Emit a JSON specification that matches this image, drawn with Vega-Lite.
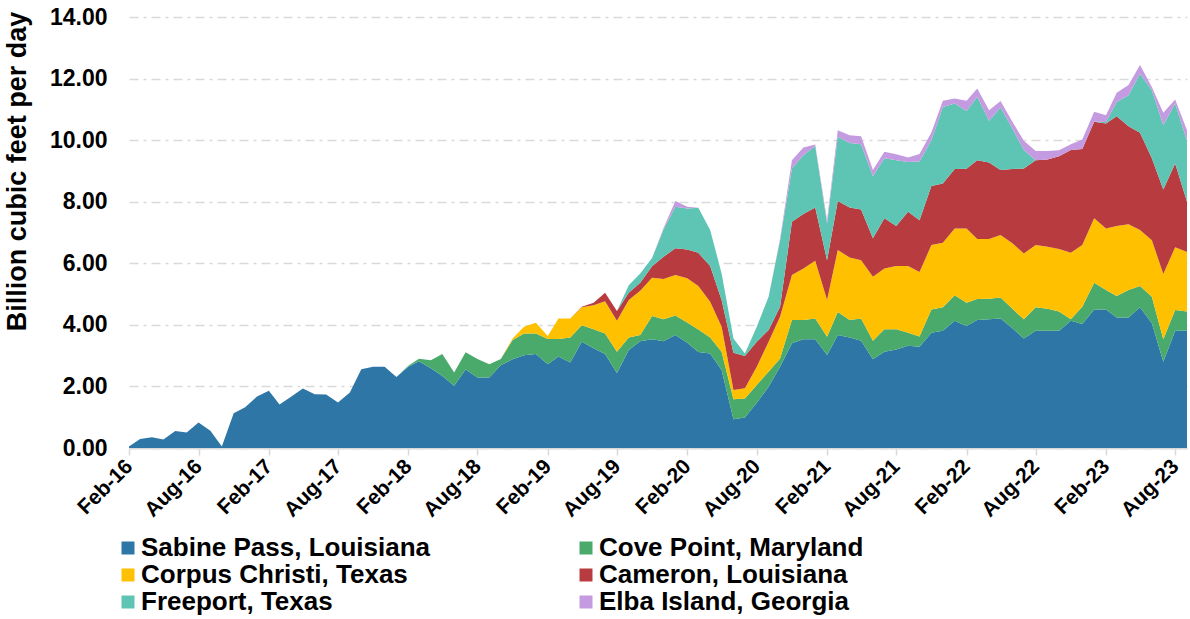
{
  "$schema": "https://vega.github.io/schema/vega-lite/v6.json",
  "width": 1058,
  "height": 431,
  "autosize": {"type": "none"},
  "padding": {"left": 129, "top": 17, "right": 3, "bottom": 171},
  "background": "white",
  "config": {"view": {"stroke": null}, "font": "Liberation Sans"},
  "data": {"values": [
    {"date":"2016-02-01","sabine":0.05,"cove":0,"corpus":0,"cameron":0,"freeport":0,"elba":0},
    {"date":"2016-03-01","sabine":0.29,"cove":0,"corpus":0,"cameron":0,"freeport":0,"elba":0},
    {"date":"2016-04-01","sabine":0.35,"cove":0,"corpus":0,"cameron":0,"freeport":0,"elba":0},
    {"date":"2016-05-01","sabine":0.28,"cove":0,"corpus":0,"cameron":0,"freeport":0,"elba":0},
    {"date":"2016-06-01","sabine":0.55,"cove":0,"corpus":0,"cameron":0,"freeport":0,"elba":0},
    {"date":"2016-07-01","sabine":0.50,"cove":0,"corpus":0,"cameron":0,"freeport":0,"elba":0},
    {"date":"2016-08-01","sabine":0.83,"cove":0,"corpus":0,"cameron":0,"freeport":0,"elba":0},
    {"date":"2016-09-01","sabine":0.56,"cove":0,"corpus":0,"cameron":0,"freeport":0,"elba":0},
    {"date":"2016-10-01","sabine":0.05,"cove":0,"corpus":0,"cameron":0,"freeport":0,"elba":0},
    {"date":"2016-11-01","sabine":1.13,"cove":0,"corpus":0,"cameron":0,"freeport":0,"elba":0},
    {"date":"2016-12-01","sabine":1.32,"cove":0,"corpus":0,"cameron":0,"freeport":0,"elba":0},
    {"date":"2017-01-01","sabine":1.67,"cove":0,"corpus":0,"cameron":0,"freeport":0,"elba":0},
    {"date":"2017-02-01","sabine":1.86,"cove":0,"corpus":0,"cameron":0,"freeport":0,"elba":0},
    {"date":"2017-03-01","sabine":1.41,"cove":0,"corpus":0,"cameron":0,"freeport":0,"elba":0},
    {"date":"2017-04-01","sabine":1.67,"cove":0,"corpus":0,"cameron":0,"freeport":0,"elba":0},
    {"date":"2017-05-01","sabine":1.93,"cove":0,"corpus":0,"cameron":0,"freeport":0,"elba":0},
    {"date":"2017-06-01","sabine":1.75,"cove":0,"corpus":0,"cameron":0,"freeport":0,"elba":0},
    {"date":"2017-07-01","sabine":1.74,"cove":0,"corpus":0,"cameron":0,"freeport":0,"elba":0},
    {"date":"2017-08-01","sabine":1.48,"cove":0,"corpus":0,"cameron":0,"freeport":0,"elba":0},
    {"date":"2017-09-01","sabine":1.80,"cove":0,"corpus":0,"cameron":0,"freeport":0,"elba":0},
    {"date":"2017-10-01","sabine":2.56,"cove":0,"corpus":0,"cameron":0,"freeport":0,"elba":0},
    {"date":"2017-11-01","sabine":2.64,"cove":0,"corpus":0,"cameron":0,"freeport":0,"elba":0},
    {"date":"2017-12-01","sabine":2.64,"cove":0,"corpus":0,"cameron":0,"freeport":0,"elba":0},
    {"date":"2018-01-01","sabine":2.31,"cove":0,"corpus":0,"cameron":0,"freeport":0,"elba":0},
    {"date":"2018-02-01","sabine":2.64,"cove":0.03,"corpus":0,"cameron":0,"freeport":0,"elba":0},
    {"date":"2018-03-01","sabine":2.82,"cove":0.08,"corpus":0,"cameron":0,"freeport":0,"elba":0},
    {"date":"2018-04-01","sabine":2.59,"cove":0.26,"corpus":0,"cameron":0,"freeport":0,"elba":0},
    {"date":"2018-05-01","sabine":2.34,"cove":0.71,"corpus":0,"cameron":0,"freeport":0,"elba":0},
    {"date":"2018-06-01","sabine":2.02,"cove":0.43,"corpus":0,"cameron":0,"freeport":0,"elba":0},
    {"date":"2018-07-01","sabine":2.55,"cove":0.56,"corpus":0,"cameron":0,"freeport":0,"elba":0},
    {"date":"2018-08-01","sabine":2.29,"cove":0.60,"corpus":0,"cameron":0,"freeport":0,"elba":0},
    {"date":"2018-09-01","sabine":2.29,"cove":0.43,"corpus":0,"cameron":0,"freeport":0,"elba":0},
    {"date":"2018-10-01","sabine":2.69,"cove":0.20,"corpus":0,"cameron":0,"freeport":0,"elba":0},
    {"date":"2018-11-01","sabine":2.88,"cove":0.63,"corpus":0.05,"cameron":0,"freeport":0,"elba":0},
    {"date":"2018-12-01","sabine":3.01,"cove":0.71,"corpus":0.22,"cameron":0,"freeport":0,"elba":0},
    {"date":"2019-01-01","sabine":3.05,"cove":0.67,"corpus":0.35,"cameron":0,"freeport":0,"elba":0},
    {"date":"2019-02-01","sabine":2.72,"cove":0.82,"corpus":0.10,"cameron":0,"freeport":0,"elba":0},
    {"date":"2019-03-01","sabine":2.97,"cove":0.57,"corpus":0.67,"cameron":0,"freeport":0,"elba":0},
    {"date":"2019-04-01","sabine":2.78,"cove":0.81,"corpus":0.62,"cameron":0,"freeport":0,"elba":0},
    {"date":"2019-05-01","sabine":3.45,"cove":0.54,"corpus":0.58,"cameron":0.02,"freeport":0,"elba":0},
    {"date":"2019-06-01","sabine":3.24,"cove":0.62,"corpus":0.78,"cameron":0.08,"freeport":0,"elba":0},
    {"date":"2019-07-01","sabine":3.05,"cove":0.67,"corpus":1.05,"cameron":0.27,"freeport":0,"elba":0},
    {"date":"2019-08-01","sabine":2.44,"cove":0.69,"corpus":1.00,"cameron":0.32,"freeport":0,"elba":0},
    {"date":"2019-09-01","sabine":3.18,"cove":0.41,"corpus":1.22,"cameron":0.23,"freeport":0.25,"elba":0},
    {"date":"2019-10-01","sabine":3.47,"cove":0.20,"corpus":1.44,"cameron":0.26,"freeport":0.30,"elba":0},
    {"date":"2019-11-01","sabine":3.53,"cove":0.76,"corpus":1.24,"cameron":0.37,"freeport":0.27,"elba":0},
    {"date":"2019-12-01","sabine":3.47,"cove":0.71,"corpus":1.31,"cameron":0.72,"freeport":0.89,"elba":0.05},
    {"date":"2020-01-01","sabine":3.67,"cove":0.63,"corpus":1.32,"cameron":0.87,"freeport":1.35,"elba":0.18},
    {"date":"2020-02-01","sabine":3.42,"cove":0.66,"corpus":1.43,"cameron":0.94,"freeport":1.33,"elba":0.06},
    {"date":"2020-03-01","sabine":3.12,"cove":0.73,"corpus":1.41,"cameron":1.08,"freeport":1.46,"elba":0},
    {"date":"2020-04-01","sabine":3.07,"cove":0.52,"corpus":1.16,"cameron":1.16,"freeport":1.17,"elba":0},
    {"date":"2020-05-01","sabine":2.53,"cove":0.60,"corpus":0.81,"cameron":0.87,"freeport":0.86,"elba":0},
    {"date":"2020-06-01","sabine":0.93,"cove":0.65,"corpus":0.30,"cameron":1.21,"freeport":0.47,"elba":0},
    {"date":"2020-07-01","sabine":0.99,"cove":0.62,"corpus":0.33,"cameron":1.05,"freeport":0.08,"elba":0},
    {"date":"2020-08-01","sabine":1.47,"cove":0.58,"corpus":0.59,"cameron":0.81,"freeport":0.49,"elba":0},
    {"date":"2020-09-01","sabine":1.99,"cove":0.49,"corpus":0.97,"cameron":0.38,"freeport":1.08,"elba":0},
    {"date":"2020-10-01","sabine":2.64,"cove":0.27,"corpus":1.35,"cameron":0.33,"freeport":2.16,"elba":0.05},
    {"date":"2020-11-01","sabine":3.40,"cove":0.76,"corpus":1.46,"cameron":1.73,"freeport":1.73,"elba":0.27},
    {"date":"2020-12-01","sabine":3.53,"cove":0.63,"corpus":1.67,"cameron":1.77,"freeport":1.91,"elba":0.25},
    {"date":"2021-01-01","sabine":3.53,"cove":0.68,"corpus":1.87,"cameron":1.73,"freeport":2.00,"elba":0.05},
    {"date":"2021-02-01","sabine":3.02,"cove":0.59,"corpus":1.20,"cameron":1.29,"freeport":1.19,"elba":0.11},
    {"date":"2021-03-01","sabine":3.67,"cove":0.75,"corpus":2.01,"cameron":1.59,"freeport":2.09,"elba":0.21},
    {"date":"2021-04-01","sabine":3.59,"cove":0.57,"corpus":2.03,"cameron":1.62,"freeport":2.10,"elba":0.25},
    {"date":"2021-05-01","sabine":3.48,"cove":0.73,"corpus":1.89,"cameron":1.65,"freeport":2.12,"elba":0.26},
    {"date":"2021-06-01","sabine":2.88,"cove":0.60,"corpus":2.08,"cameron":1.25,"freeport":2.02,"elba":0.20},
    {"date":"2021-07-01","sabine":3.13,"cove":0.73,"corpus":1.97,"cameron":1.63,"freeport":1.95,"elba":0.21},
    {"date":"2021-08-01","sabine":3.20,"cove":0.66,"corpus":2.05,"cameron":1.30,"freeport":2.14,"elba":0.19},
    {"date":"2021-09-01","sabine":3.32,"cove":0.42,"corpus":2.17,"cameron":1.76,"freeport":1.62,"elba":0.15},
    {"date":"2021-10-01","sabine":3.29,"cove":0.33,"corpus":2.10,"cameron":1.68,"freeport":1.91,"elba":0.24},
    {"date":"2021-11-01","sabine":3.74,"cove":0.76,"corpus":2.09,"cameron":1.92,"freeport":1.49,"elba":0.25},
    {"date":"2021-12-01","sabine":3.81,"cove":0.76,"corpus":2.10,"cameron":1.92,"freeport":2.49,"elba":0.20},
    {"date":"2022-01-01","sabine":4.13,"cove":0.83,"corpus":2.17,"cameron":1.93,"freeport":2.13,"elba":0.16},
    {"date":"2022-02-01","sabine":3.96,"cove":0.76,"corpus":2.41,"cameron":1.94,"freeport":1.88,"elba":0.33},
    {"date":"2022-03-01","sabine":4.16,"cove":0.68,"corpus":1.95,"cameron":2.56,"freeport":2.06,"elba":0.27},
    {"date":"2022-04-01","sabine":4.18,"cove":0.67,"corpus":1.94,"cameron":2.48,"freeport":1.36,"elba":0.34},
    {"date":"2022-05-01","sabine":4.21,"cove":0.68,"corpus":2.03,"cameron":2.11,"freeport":2.03,"elba":0.21},
    {"date":"2022-06-01","sabine":3.89,"cove":0.63,"corpus":2.13,"cameron":2.41,"freeport":1.32,"elba":0.22},
    {"date":"2022-07-01","sabine":3.56,"cove":0.62,"corpus":2.14,"cameron":2.76,"freeport":0.60,"elba":0.30},
    {"date":"2022-08-01","sabine":3.81,"cove":0.76,"corpus":2.02,"cameron":2.76,"freeport":0,"elba":0.30},
    {"date":"2022-09-01","sabine":3.81,"cove":0.71,"corpus":2.02,"cameron":2.83,"freeport":0,"elba":0.28},
    {"date":"2022-10-01","sabine":3.81,"cove":0.62,"corpus":2.03,"cameron":3.02,"freeport":0,"elba":0.19},
    {"date":"2022-11-01","sabine":4.13,"cove":0.05,"corpus":2.16,"cameron":3.34,"freeport":0,"elba":0.19},
    {"date":"2022-12-01","sabine":4.03,"cove":0.56,"corpus":2.00,"cameron":3.12,"freeport":0,"elba":0.31},
    {"date":"2023-01-01","sabine":4.50,"cove":0.87,"corpus":2.09,"cameron":3.14,"freeport":0,"elba":0.32},
    {"date":"2023-02-01","sabine":4.50,"cove":0.63,"corpus":2.00,"cameron":3.41,"freeport":0.05,"elba":0.22},
    {"date":"2023-03-01","sabine":4.24,"cove":0.70,"corpus":2.27,"cameron":3.57,"freeport":0.46,"elba":0.30},
    {"date":"2023-04-01","sabine":4.24,"cove":0.89,"corpus":2.14,"cameron":3.18,"freeport":1.01,"elba":0.33},
    {"date":"2023-05-01","sabine":4.57,"cove":0.69,"corpus":1.82,"cameron":3.16,"freeport":1.92,"elba":0.28},
    {"date":"2023-06-01","sabine":4.05,"cove":0.86,"corpus":1.84,"cameron":2.66,"freeport":2.21,"elba":0.11},
    {"date":"2023-07-01","sabine":2.80,"cove":0.73,"corpus":2.12,"cameron":2.75,"freeport":2.09,"elba":0.40},
    {"date":"2023-08-01","sabine":3.81,"cove":0.67,"corpus":2.04,"cameron":2.72,"freeport":1.95,"elba":0.13},
    {"date":"2023-09-01","sabine":3.81,"cove":0.62,"corpus":1.94,"cameron":1.63,"freeport":1.98,"elba":0.34}
  ]},
  "transform": [
    {"fold": ["sabine", "cove", "corpus", "cameron", "freeport", "elba"], "as": ["terminal", "bcfd"]},
    {"calculate": "indexof(['sabine','cove','corpus','cameron','freeport','elba'], datum.terminal)", "as": "stackIndex"}
  ],
  "mark": {"type": "area", "interpolate": "linear"},
  "encoding": {
    "x": {
      "field": "date",
      "type": "temporal",
      "scale": {
        "type": "utc",
        "domain": [
          {"year": 2016, "month": 2, "date": 1, "utc": true},
          {"year": 2023, "month": 9, "date": 1, "utc": true}
        ]
      },
      "axis": {
        "title": null,
        "format": "%b-%y",
        "values": [
          {"year": 2016, "month": 2, "date": 1, "utc": true},
          {"year": 2016, "month": 8, "date": 1, "utc": true},
          {"year": 2017, "month": 2, "date": 1, "utc": true},
          {"year": 2017, "month": 8, "date": 1, "utc": true},
          {"year": 2018, "month": 2, "date": 1, "utc": true},
          {"year": 2018, "month": 8, "date": 1, "utc": true},
          {"year": 2019, "month": 2, "date": 1, "utc": true},
          {"year": 2019, "month": 8, "date": 1, "utc": true},
          {"year": 2020, "month": 2, "date": 1, "utc": true},
          {"year": 2020, "month": 8, "date": 1, "utc": true},
          {"year": 2021, "month": 2, "date": 1, "utc": true},
          {"year": 2021, "month": 8, "date": 1, "utc": true},
          {"year": 2022, "month": 2, "date": 1, "utc": true},
          {"year": 2022, "month": 8, "date": 1, "utc": true},
          {"year": 2023, "month": 2, "date": 1, "utc": true},
          {"year": 2023, "month": 8, "date": 1, "utc": true}
        ],
        "labelAngle": -45,
        "labelAlign": "right",
        "labelBaseline": "middle",
        "labelFontSize": 21,
        "labelFontWeight": "bold",
        "labelColor": "#000000",
        "labelPadding": 8,
        "labelOverlap": false,
        "labelFlush": false,
        "labelBound": false,
        "grid": false,
        "domainColor": "#d9d9d9",
        "domainWidth": 2,
        "tickColor": "#d9d9d9",
        "tickWidth": 1.5,
        "tickSize": 7
      }
    },
    "y": {
      "field": "bcfd",
      "type": "quantitative",
      "stack": "zero",
      "scale": {"domain": [0, 14], "nice": false},
      "axis": {
        "title": "Billion cubic feet per day",
        "titleFontSize": 27,
        "titleFontWeight": "bold",
        "titleColor": "#000000",
        "titlePadding": 18,
        "titleY": 154,
        "values": [0, 2, 4, 6, 8, 10, 12, 14],
        "format": ".2f",
        "labelFontSize": 23,
        "labelFontWeight": "bold",
        "labelColor": "#000000",
        "labelPadding": 22,
        "domain": false,
        "ticks": false,
        "grid": true,
        "gridColor": "#d9d9d9",
        "gridWidth": 1.5,
        "gridDash": [9, 5, 3, 5]
      }
    },
    "color": {
      "field": "terminal",
      "type": "nominal",
      "scale": {
        "domain": ["sabine", "corpus", "freeport", "cove", "cameron", "elba"],
        "range": ["#2d76a6", "#ffc000", "#5ec4b4", "#49aa6c", "#b83c3f", "#c49be0"]
      },
      "legend": {
        "title": null,
        "orient": "none",
        "legendX": -14,
        "legendY": 518,
        "columns": 2,
        "columnPadding": 143,
        "rowPadding": 1,
        "symbolType": "square",
        "symbolSize": 169,
        "symbolStrokeWidth": 0,
        "symbolOpacity": 1,
        "labelFontSize": 26,
        "labelFontWeight": "bold",
        "labelColor": "#000000",
        "labelOffset": 0,
        "labelLimit": 500,
        "labelExpr": "datum.value == 'sabine' ? 'Sabine Pass, Louisiana' : datum.value == 'cove' ? 'Cove Point, Maryland' : datum.value == 'corpus' ? 'Corpus Christi, Texas' : datum.value == 'cameron' ? 'Cameron, Louisiana' : datum.value == 'freeport' ? 'Freeport, Texas' : 'Elba Island, Georgia'"
      }
    },
    "order": {"field": "stackIndex", "type": "quantitative", "sort": "ascending"}
  }
}
